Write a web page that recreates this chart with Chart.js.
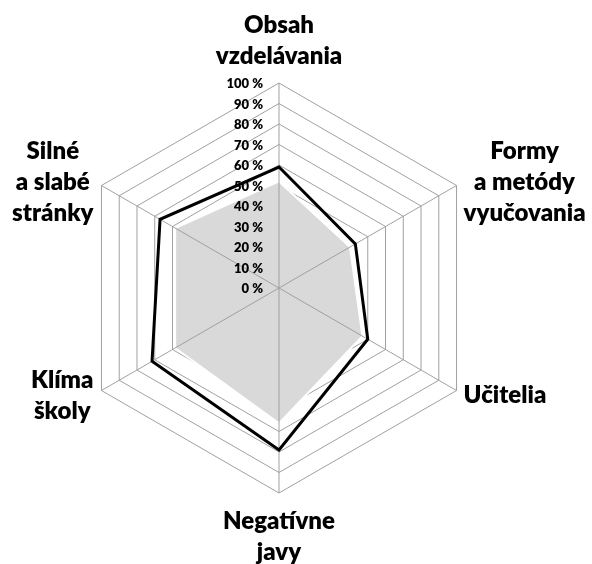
<!DOCTYPE html>
<html>
<head>
<meta charset="utf-8">
<script src="https://cdn.jsdelivr.net/npm/chart.js@4.4.0/dist/chart.umd.min.js"></script>
<style>
  html, body { margin: 0; padding: 0; background: #ffffff; }
  #wrap { width: 592px; height: 564px; position: relative; }
</style>
</head>
<body>
<div id="wrap"><canvas id="c"></canvas></div>
<script>
// ---- data ----
const categories = [
  ['Obsah', 'vzdelávania'],
  ['Formy', 'a metódy', 'vyučovania'],
  ['Učitelia'],
  ['Negatívne', 'javy'],
  ['Klíma', 'školy'],
  ['Silné', 'a slabé', 'stránky']
];
const grayValues  = [52, 40, 47, 66, 58.5, 58.5];
const blackValues = [59, 43, 50, 79, 71.5, 67];
const tickValues  = [0, 10, 20, 30, 40, 50, 60, 70, 80, 90, 100];
const tickLabels  = ['0 %', '10 %', '20 %', '30 %', '40 %', '50 %', '60 %', '70 %', '80 %', '90 %', '100 %'];

const GRID = '#a0a0a0';
const FONT = 'Lato, "Open Sans", sans-serif';
const LABEL_SIZE = 24;
const LINE_H = 31;

const overlay = {
  id: 'overlay',
  afterDatasetDraw(chart, args) {
    if (args.index !== 0) return;
    const s = chart.scales.r, ctx = chart.ctx;
    ctx.save();
    ctx.strokeStyle = GRID;
    ctx.lineWidth = 1;
    for (let i = 0; i < categories.length; i++) {
      const p = s.getPointPositionForValue(i, s.max);
      ctx.beginPath();
      ctx.moveTo(s.xCenter, s.yCenter);
      ctx.lineTo(p.x, p.y);
      ctx.stroke();
    }
    ctx.restore();
  },
  afterDraw(chart) {
    const s = chart.scales.r, ctx = chart.ctx;
    ctx.save();
    // tick labels
    ctx.fillStyle = '#000';
    ctx.font = '800 13px ' + FONT;
    ctx.textAlign = 'right';
    ctx.textBaseline = 'middle';
    tickValues.forEach((v, i) => {
      const d = s.getDistanceFromCenterForValue(v);
      ctx.fillText(tickLabels[i], s.xCenter - 16, s.yCenter - d + 1);
    });
    // point labels
    ctx.font = '800 ' + LABEL_SIZE + 'px ' + FONT;
    ctx.textAlign = 'center';
    ctx.textBaseline = 'alphabetic';
    const capMid = LABEL_SIZE * 0.36;
    categories.forEach((lines, i) => {
      const v = s.getPointPositionForValue(i, s.max);
      const widths = lines.map(t => ctx.measureText(t).width);
      const bw = Math.max(...widths);
      const n = lines.length;
      const dx = v.x - s.xCenter, dy = v.y - s.yCenter;
      let cx, firstMid;
      if (Math.abs(dx) < 1) {
        cx = v.x;
        if (dy < 0) firstMid = v.y - 28 - (n - 1) * LINE_H;
        else firstMid = v.y + 27;
      } else {
        cx = dx > 0 ? v.x + 7 + bw / 2 : v.x - 8 - bw / 2;
        const blockMid = v.y + (dy < 0 ? -4 : 4);
        firstMid = blockMid - (n - 1) * LINE_H / 2;
      }
      lines.forEach((t, k) => {
        ctx.fillText(t, cx, firstMid + k * LINE_H + capMid);
      });
    });
    ctx.restore();
  }
};

new Chart(document.getElementById('c'), {
  type: 'radar',
  data: {
    labels: categories,
    datasets: [
      {
        data: grayValues,
        order: 2,
        backgroundColor: '#d9d9d9',
        borderColor: '#ffffff',
        borderWidth: 2,
        fill: true,
        pointRadius: 0,
        pointHoverRadius: 0,
        tension: 0
      },
      {
        data: blackValues,
        order: 1,
        backgroundColor: 'rgba(0,0,0,0)',
        borderColor: '#000000',
        borderWidth: 3,
        fill: false,
        pointRadius: 0,
        pointHoverRadius: 0,
        tension: 0
      }
    ]
  },
  options: {
    responsive: true,
    maintainAspectRatio: false,
    animation: false,
    layout: { padding: { left: 74, right: 107, top: 83, bottom: 70 } },
    plugins: { legend: { display: false }, tooltip: { enabled: false } },
    elements: { line: { borderJoinStyle: 'miter' } },
    scales: {
      r: {
        min: 0,
        max: 100,
        beginAtZero: true,
        ticks: { display: false, stepSize: 10 },
        grid: { color: GRID, lineWidth: 1 },
        angleLines: { display: false },
        pointLabels: { display: false }
      }
    }
  },
  plugins: [overlay]
});
</script>
</body>
</html>
